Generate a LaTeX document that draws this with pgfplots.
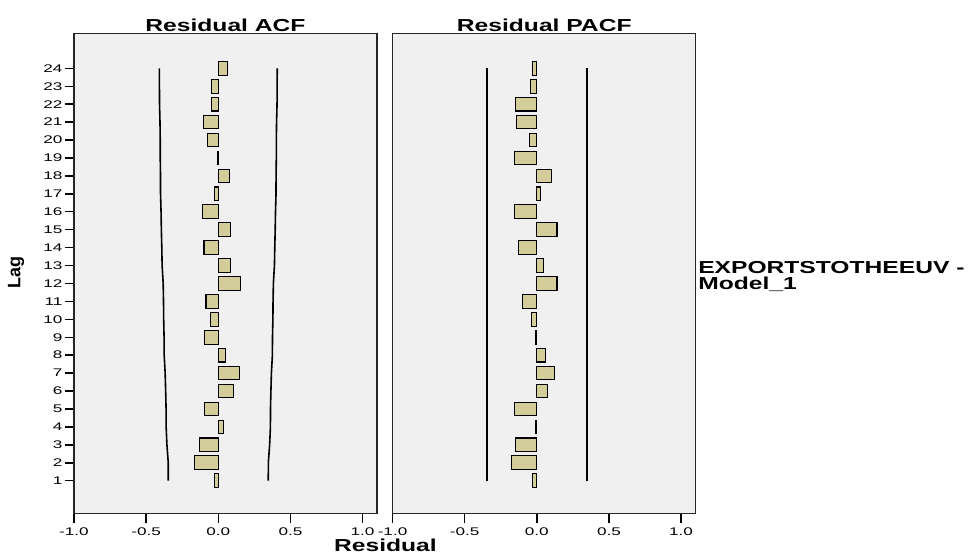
\documentclass[border=0pt]{standalone}
\usepackage{pgfplots}
\pgfplotsset{compat=1.18}
\usepackage{pgfplotstable}
\usepackage{fontspec}
\setmainfont{Liberation Sans}
\newfontfamily\tickfont[FakeStretch=1.55]{Liberation Sans}
\newfontfamily\labfont[FakeStretch=1.42]{Liberation Sans}
\newfontfamily\lagfont{Liberation Sans Bold}
\definecolor{barfill}{RGB}{211,206,153}
\definecolor{panelbg}{RGB}{240,240,240}

\pgfplotstableread{
lag acf pacf
1 -0.028 -0.028
2 -0.163 -0.175
3 -0.129 -0.147
4 0.034 -0.010
5 -0.094 -0.154
6 0.103 0.073
7 0.145 0.120
8 0.048 0.060
9 -0.094 -0.010
10 -0.057 -0.036
11 -0.085 -0.100
12 0.154 0.140
13 0.085 0.046
14 -0.099 -0.126
15 0.085 0.140
16 -0.108 -0.156
17 -0.028 0.028
18 0.080 0.100
19 -0.005 -0.156
20 -0.076 -0.050
21 -0.103 -0.140
22 -0.050 -0.150
23 -0.046 -0.044
24 0.067 -0.028
}\datatable

\pgfplotstableread{
lag lo hi
1 -0.3465 0.3465
2 -0.3468 0.3468
3 -0.3559 0.3559
4 -0.3614 0.3614
5 -0.3618 0.3618
6 -0.3647 0.3647
7 -0.3682 0.3682
8 -0.3750 0.3750
9 -0.3757 0.3757
10 -0.3785 0.3785
11 -0.3796 0.3796
12 -0.3819 0.3819
13 -0.3892 0.3892
14 -0.3915 0.3915
15 -0.3945 0.3945
16 -0.3966 0.3966
17 -0.4002 0.4002
18 -0.4004 0.4004
19 -0.4023 0.4023
20 -0.4023 0.4023
21 -0.4040 0.4040
22 -0.4072 0.4072
23 -0.4079 0.4079
24 -0.4085 0.4085
}\acfbounds

\pgfplotstableread{
lag lo hi
1 -0.3465 0.3465
24 -0.3465 0.3465
}\pacfbounds

\begin{document}
\begin{tikzpicture}
\path[use as bounding box] (0,0) rectangle (728.25pt,420pt);
\pgfplotsset{
  panel/.style={
    scale only axis, width=227.25pt, height=359.85pt,
    xmin=-1, xmax=1.1, ymin=-0.82, ymax=25.94,
    axis background/.style={fill=panelbg},
    axis line style={line width=1.1pt, black!85},
    tick align=outside, tick pos=left,
    xtick={-1,-0.5,0,0.5,1},
    xticklabels={-1.0,-0.5,0.0,0.5,1.0},
    major tick length=7pt,
    every tick/.style={black, line width=1.1pt},
    tick label style={font=\tickfont\fontsize{8.3}{10}\selectfont},
    xticklabel style={inner sep=1pt, yshift=-3pt},
    yticklabel style={inner sep=1.5pt},
    /pgf/number format/assume math mode=true,
  },
  bars/.style={xbar, bar width=0.76, bar shift=0pt, fill=barfill, draw=black, line width=0.8pt},
  bnd/.style={black, line width=1.2pt, sharp plot, no marks},
}
\begin{axis}[panel, at={(55.5pt,35pt)}, anchor=south west, ytick={1,2,...,24}]
\addplot[bars] table[x=acf, y=lag] {\datatable};
\addplot[bnd] table[x=lo, y=lag] {\acfbounds};
\addplot[bnd] table[x=hi, y=lag] {\acfbounds};
\end{axis}
\begin{axis}[panel, at={(294.4pt,35pt)}, anchor=south west, ytick=\empty]
\addplot[bars] table[x=pacf, y=lag] {\datatable};
\addplot[bnd] table[x=lo, y=lag] {\pacfbounds};
\addplot[bnd] table[x=hi, y=lag] {\pacfbounds};
\end{axis}
\node[anchor=base, font=\labfont\bfseries\fontsize{13}{15}\selectfont] at (169.1pt,396.2pt) {Residual ACF};
\node[anchor=base, font=\labfont\bfseries\fontsize{13}{15}\selectfont] at (408.2pt,396.2pt) {Residual PACF};
\node[anchor=base, font=\labfont\bfseries\fontsize{13}{15}\selectfont] at (289.1pt,6pt) {Residual};
\node[anchor=center, rotate=90, inner sep=0pt, font=\lagfont\fontsize{13.5}{16}\selectfont] at (12pt,215.25pt) {Lag};
\node[anchor=base west, inner sep=0pt, font=\labfont\bfseries\fontsize{13}{15}\selectfont] at (523.5pt,215pt) {EXPORTSTOTHEEUV -};
\node[anchor=base west, inner sep=0pt, font=\labfont\bfseries\fontsize{13}{15}\selectfont] at (523.5pt,202.5pt) {Model\_1};
\end{tikzpicture}
\end{document}
